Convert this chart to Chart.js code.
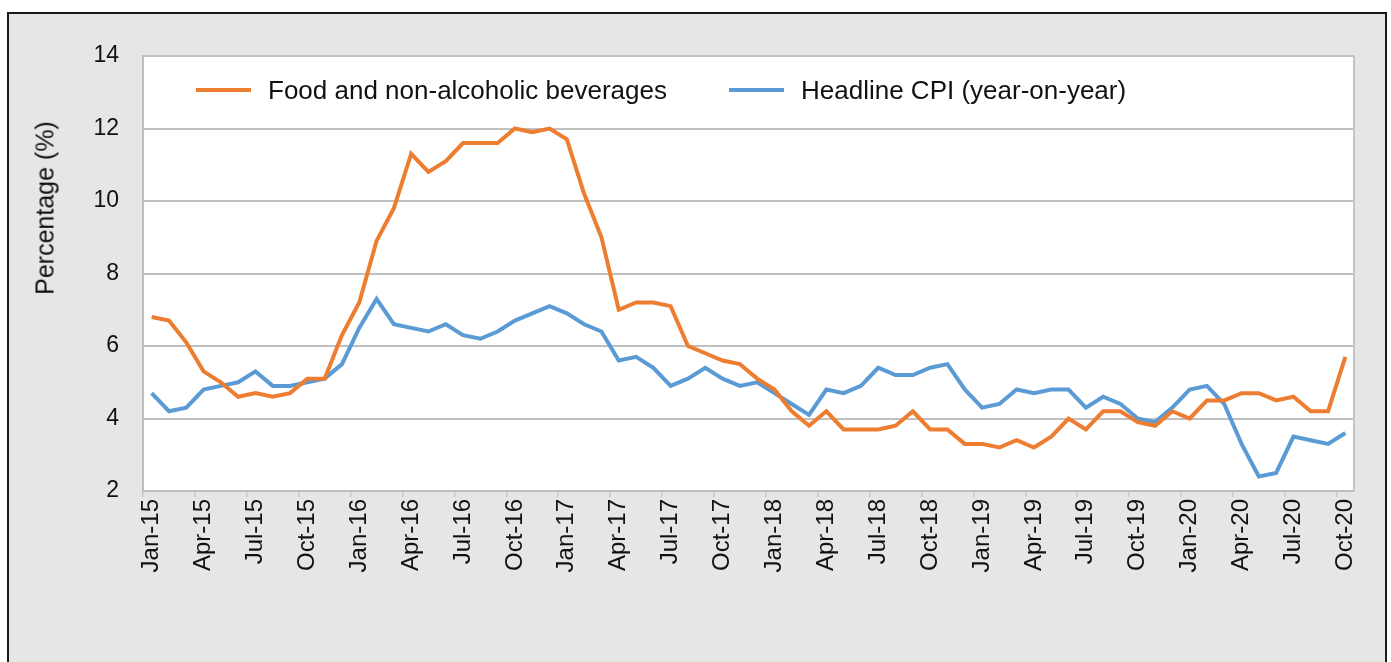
<!DOCTYPE html>
<html>
<head>
<meta charset="utf-8">
<title>Food and headline CPI</title>
<script src="https://cdn.jsdelivr.net/npm/chart.js@4.4.1/dist/chart.umd.min.js"></script>
<style>
  body { margin: 0; background: #fff; font-family: 'Liberation Sans', Arial, sans-serif; }
  #wrap { position: relative; width: 1391px; height: 662px; overflow: hidden; }
  #frame { position: absolute; left: 7px; top: 12px; width: 1376px; height: 700px; border: 2px solid #1a1a1a; background: #e6e6e6; }
  #chart { position: absolute; left: 0; top: 0; }
  .key { position: absolute; top: 75px; height: 30px; display: flex; align-items: center; font-size: 26px; color: #111; white-space: nowrap; }
  .key i { display: inline-block; width: 55px; height: 4px; margin-right: 17px; }
  #ytitle { position: absolute; left: 45px; top: 208px; transform: translate(-50%, -50%) rotate(-90deg); font-size: 25px; color: #111; white-space: nowrap; }
</style>
</head>
<body>
<div id="wrap">
  <div id="frame"></div>
  <canvas id="chart" width="1391" height="662"></canvas>
  <div class="key" style="left:196px"><i style="background:#ed7d31"></i>Food and non-alcoholic beverages</div>
  <div class="key" style="left:729px"><i style="background:#5b9bd5"></i>Headline CPI (year-on-year)</div>
  <div id="ytitle">Percentage (%)</div>
</div>
<script>
const months = ['Jan', 'Feb', 'Mar', 'Apr', 'May', 'Jun', 'Jul', 'Aug', 'Sep', 'Oct', 'Nov', 'Dec']
const years = ['15', '16', '17', '18', '19', '20']
const labels = []
years.forEach(function (y) {
  months.forEach(function (m) {
    labels.push(m + '-' + y)
  })
})
labels.length = 70 // series ends at Oct-20

// food and non-alcoholic beverages, % y/y
const food = [
  6.8, 6.7, 6.1, 5.3, 5.0, 4.6, 4.7, 4.6, 4.7, 5.1, 5.1, 6.3,
  7.2, 8.9, 9.8, 11.3, 10.8, 11.1, 11.6, 11.6, 11.6, 12.0, 11.9, 12.0,
  11.7, 10.2, 9.0, 7.0, 7.2, 7.2, 7.1, 6.0, 5.8, 5.6, 5.5, 5.1,
  4.8, 4.2, 3.8, 4.2, 3.7, 3.7, 3.7, 3.8, 4.2, 3.7, 3.7, 3.3,
  3.3, 3.2, 3.4, 3.2, 3.5, 4.0, 3.7, 4.2, 4.2, 3.9, 3.8, 4.2,
  4.0, 4.5, 4.5, 4.7, 4.7, 4.5, 4.6, 4.2, 4.2, 5.7
]

// headline CPI, % y/y
const headline = [
  4.7, 4.2, 4.3, 4.8, 4.9, 5.0, 5.3, 4.9, 4.9, 5.0, 5.1, 5.5,
  6.5, 7.3, 6.6, 6.5, 6.4, 6.6, 6.3, 6.2, 6.4, 6.7, 6.9, 7.1,
  6.9, 6.6, 6.4, 5.6, 5.7, 5.4, 4.9, 5.1, 5.4, 5.1, 4.9, 5.0,
  4.7, 4.4, 4.1, 4.8, 4.7, 4.9, 5.4, 5.2, 5.2, 5.4, 5.5, 4.8,
  4.3, 4.4, 4.8, 4.7, 4.8, 4.8, 4.3, 4.6, 4.4, 4.0, 3.9, 4.3,
  4.8, 4.9, 4.4, 3.3, 2.4, 2.5, 3.5, 3.4, 3.3, 3.6
]

const yMin = 2
const yMax = 14
const yStep = 2

// white plot area with a thin grey edge on the right
const plotArea = {
  id: 'plotArea',
  beforeDraw(chart) {
    const { ctx, chartArea } = chart
    ctx.save()
    ctx.fillStyle = '#ffffff'
    ctx.fillRect(chartArea.left, chartArea.top, chartArea.right - chartArea.left, chartArea.bottom - chartArea.top)
    ctx.restore()
  },
  afterDraw(chart) {
    const { ctx, chartArea } = chart
    ctx.save()
    ctx.strokeStyle = '#c4c4c4'
    ctx.lineWidth = 2
    ctx.beginPath()
    ctx.moveTo(chartArea.right, chartArea.top)
    ctx.lineTo(chartArea.right, chartArea.bottom)
    ctx.stroke()
    ctx.restore()
  }
}

const ctx = document.getElementById('chart')
const lineChart = new Chart(ctx, {
  type: 'line',
  data: {
    labels: labels,
    datasets: [{
      label: 'Food and non-alcoholic beverages',
      data: food,
      borderColor: '#ed7d31',
      backgroundColor: '#ed7d31',
      borderWidth: 4,
      pointRadius: 0,
      tension: 0
    }, {
      label: 'Headline CPI (year-on-year)',
      data: headline,
      borderColor: '#5b9bd5',
      backgroundColor: '#5b9bd5',
      borderWidth: 4,
      pointRadius: 0,
      tension: 0
    }]
  },
  options: {
    responsive: false,
    animation: false,
    layout: { padding: { top: 56, right: 37, left: 0, bottom: 0 } },
    plugins: {
      legend: { display: false },
      tooltip: { enabled: false }
    },
    scales: {
      x: {
        offset: true,
        grid: {
          offset: true,
          drawOnChartArea: false,
          tickLength: 6,
          lineWidth: 1.5,
          color: function (c) { return c.index % 3 === 0 ? '#c8c8c8' : 'rgba(0,0,0,0)' }
        },
        border: { color: '#bfbfbf', width: 2 },
        ticks: {
          autoSkip: false,
          minRotation: 90,
          maxRotation: 90,
          padding: 2,
          color: '#111',
          font: { family: "'Liberation Sans', Arial, sans-serif", size: 24 },
          callback: function (value, index) {
            return index % 3 === 0 ? this.getLabelForValue(value) : ''
          }
        },
        afterFit: function (scale) { scale.height = 171 }
      },
      y: {
        min: yMin,
        max: yMax,
        grid: { color: '#c0c0c0', lineWidth: 2, drawTicks: false },
        border: { color: '#bfbfbf', width: 2 },
        ticks: {
          stepSize: yStep,
          padding: 24,
          color: '#111',
          font: { family: "'Liberation Sans', Arial, sans-serif", size: 23 }
        },
        afterFit: function (scale) { scale.width = 143 }
      }
    }
  },
  plugins: [plotArea]
})
</script>
</body>
</html>
